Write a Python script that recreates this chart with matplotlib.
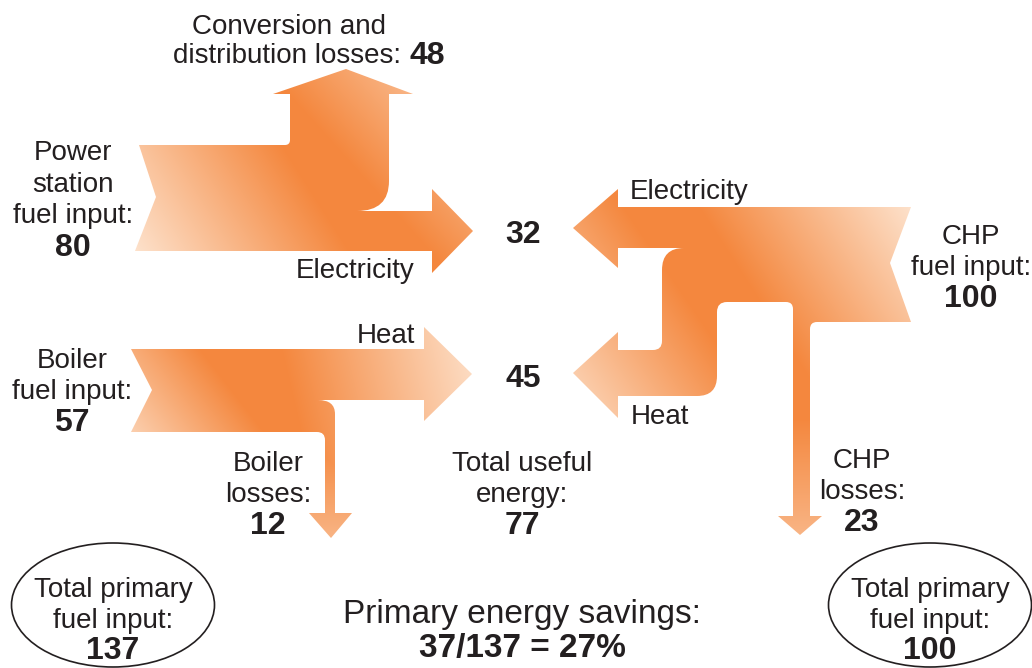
import numpy as np
import matplotlib
matplotlib.use("Agg")
import matplotlib.pyplot as plt
from matplotlib.path import Path
from matplotlib.patches import PathPatch, Ellipse

# energy flows (units of primary energy)
power_input = 80
conv_losses = 48
power_elec = 32
boiler_input = 57
boiler_heat = 45
boiler_losses = 12
chp_input = 100
chp_elec = 32
chp_heat = 45
chp_losses = 23
useful_total = power_elec + boiler_heat      # 77
primary_total = power_input + boiler_input   # 137
savings = primary_total - chp_input          # 37

ORANGE = np.array([0.957, 0.533, 0.247])
LIGHT = np.array([0.995, 0.905, 0.830])
INK = "#231F20"
FONT = "Liberation Sans"
DY = 3  # va='center' sits a bit high vs. the visual centre of the glyphs

W, H = 1032, 668
fig = plt.figure(figsize=(W / 100, H / 100), dpi=100)
ax = fig.add_axes([0, 0, 1, 1])
ax.axis("off")


def build(seq):
    # seq: points (x, y) or ("q", ctrl, end) for a rounded corner
    verts, codes = [], []
    for item in seq:
        if item[0] == "q":
            verts += [item[1], item[2]]
            codes += [Path.CURVE3, Path.CURVE3]
        else:
            verts.append(item)
            codes.append(Path.MOVETO if not codes else Path.LINETO)
    verts.append(verts[0])
    codes.append(Path.CLOSEPOLY)
    return Path(verts, codes)


def shade(path, ramps):
    # fill the arrow with an orange -> light peach blend clipped to its outline
    x0, y0 = path.vertices.min(axis=0) - 2
    x1, y1 = path.vertices.max(axis=0) + 2
    xs, ys = np.meshgrid(np.arange(x0, x1), np.arange(y0, y1))
    t = np.zeros_like(xs, dtype=float)
    for (px, py), (qx, qy), s in ramps:
        dx, dy = qx - px, qy - py
        u = ((xs - px) * dx + (ys - py) * dy) / (dx * dx + dy * dy)
        t = np.maximum(t, s * np.clip(1 - u, 0, 1))
    img = ORANGE * (1 - t[..., None]) + LIGHT * t[..., None]
    patch = PathPatch(path, fc="none", ec="none")
    ax.add_patch(patch)
    im = ax.imshow(img, extent=(x0, x1, y1, y0), origin="upper",
                   interpolation="bilinear", zorder=1)
    im.set_clip_path(patch)


# power station: fuel input -> losses (up) + electricity (right)
power = build([
    (139, 145), (285, 145), ("q", (290, 145), (290, 140)),
    (290, 94), (273, 94), (346, 69), (413, 94), (389, 94),
    (389, 181), ("q", (389, 211), (357, 211)),
    (432, 211), (432, 189), (473, 231), (432, 273), (432, 251),
    (135, 251), (156, 197),
])
shade(power, [((130, 262), (290, 160), 1.0), ((420, 78), (340, 150), 0.55)])

# boiler: fuel input -> heat (right) + losses (down)
boiler = build([
    (131, 349), (424, 349), (424, 327), (472, 374), (424, 421), (424, 400),
    (318, 400), ("q", (335, 400), (335, 414)),
    (335, 513), (352, 513), (331, 538), (309, 513), (325, 513),
    (325, 440), ("q", (325, 432), (317, 432)),
    (131, 432), (152, 390),
])
shade(boiler, [((122, 442), (215, 370), 0.85), ((478, 338), (290, 382), 0.95),
               ((331, 545), (331, 440), 0.5)])

# CHP: fuel input -> electricity + heat (left) + losses (down)
chp = build([
    (618, 207), (911, 207), (890, 263), (911, 322),
    (817, 322), ("q", (810, 322), (810, 329)),
    (810, 516), (822, 516), (800, 535), (778, 516), (793, 516),
    (793, 309), ("q", (793, 302), (786, 302)),
    (727, 302), ("q", (717, 302), (717, 312)),
    (717, 376), ("q", (717, 396), (697, 396)),
    (618, 396), (618, 418), (573, 373), (618, 332), (618, 350),
    (653, 350), ("q", (662, 350), (662, 341)),
    (662, 270), ("q", (662, 248), (684, 248)),
    (618, 248), (618, 268), (573, 228), (618, 189),
])
shade(chp, [((918, 198), (760, 300), 1.0), ((568, 422), (705, 328), 0.9),
            ((800, 542), (800, 420), 0.5)])


def label(x, y, lines, size=20, bsize=23, dy=31):
    # lines: list of (text, bold)
    for i, (txt, bold) in enumerate(lines):
        ax.text(x, y + DY + i * dy, txt, ha="center", va="center", color=INK,
                fontsize=bsize if bold else size,
                fontweight="bold" if bold else "normal", family=FONT)


label(289, 24, [("Conversion and", False)])
ax.text(401, 53 + DY, "distribution losses:", ha="right", va="center", color=INK,
        fontsize=20, family=FONT)
ax.text(409, 53 + DY, f"{conv_losses}", ha="left", va="center", color=INK,
        fontsize=23, fontweight="bold", family=FONT)

label(73, 150, [("Power", False), ("station", False), ("fuel input:", False),
                (f"{power_input}", True)], dy=31.5)
label(355, 268, [("Electricity", False)])
label(523, 232, [(f"{power_elec}", True)])
label(689, 189, [("Electricity", False)])
label(971, 234, [("CHP", False), ("fuel input:", False), (f"{chp_input}", True)])

label(386, 333, [("Heat", False)])
label(523, 376, [(f"{boiler_heat}", True)])
label(660, 414, [("Heat", False)])
label(72, 358, [("Boiler", False), ("fuel input:", False), (f"{boiler_input}", True)])

label(268, 461, [("Boiler", False), ("losses:", False), (f"{boiler_losses}", True)])
label(522, 461, [("Total useful", False), ("energy:", False), (f"{useful_total}", True)])
label(862, 458, [("CHP", False), ("losses:", False), (f"{chp_losses}", True)])

for cx, total in [(113, primary_total), (930, chp_input)]:
    ax.add_patch(Ellipse((cx, 605), 203, 124, fill=False, ec=INK, lw=1.2, zorder=3))
    label(cx, 587, [("Total primary", False), ("fuel input:", False), (f"{total}", True)],
          dy=30.5)

ax.text(522, 612 + DY, "Primary energy savings:", ha="center", va="center", color=INK,
        fontsize=24, family=FONT)
ax.text(522, 646 + DY, f"{savings}/{primary_total} = {round(100 * savings / primary_total)}%",
        ha="center", va="center", color=INK, fontsize=24, fontweight="bold", family=FONT)

ax.set_xlim(0, W)
ax.set_ylim(H, 0)
ax.set_aspect("auto")
fig.savefig("out.png", dpi=100)
